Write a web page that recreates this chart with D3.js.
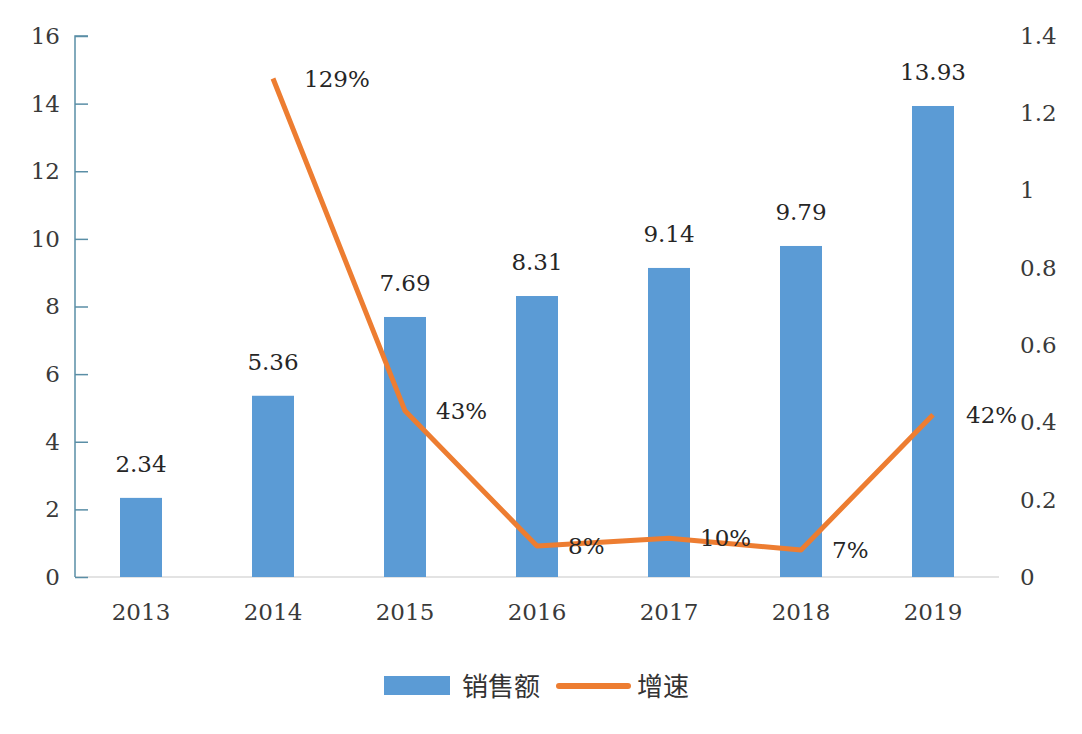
<!DOCTYPE html>
<html><head><meta charset="utf-8">
<script src="https://cdn.jsdelivr.net/npm/d3@7"></script>
<style>body{margin:0;background:#fff}</style>
</head><body>
<svg id="c" width="1082" height="734"></svg>
<script>
const categories = ["2013","2014","2015","2016","2017","2018","2019"];
const sales = [2.34, 5.36, 7.69, 8.31, 9.14, 9.79, 13.93];
const growth = [null, 1.29, 0.43, 0.08, 0.10, 0.07, 0.42];
const growthLabels = ["", "129%", "43%", "8%", "10%", "7%", "42%"];
const leftTicks = [0,2,4,6,8,10,12,14,16];
const rightTicks = [0,0.2,0.4,0.6,0.8,1,1.2,1.4];
const legendNames = ["销售额","增速"];

(function(){
const svg = d3.select("#c");
const pL = 75, pR = 999, pT = 36, pB = 577;
const font = "'DejaVu Serif',serif";
const fs = 23;
const x = d3.scaleBand().domain(categories).range([pL, pR]).paddingInner(0).paddingOuter(0);
const y = d3.scaleLinear().domain([0,16]).range([pB, pT]);
const y2 = d3.scaleLinear().domain([0,1.4]).range([pB, pT]);
const bw = 42;

svg.append("line").attr("x1", pL).attr("x2", pR).attr("y1", pB).attr("y2", pB)
  .attr("stroke", "#c8c8c8").attr("stroke-width", 1.2);

const la = svg.append("g").attr("transform", `translate(${pL},0)`)
  .call(d3.axisLeft(y).tickValues(leftTicks).tickSize(-13).tickPadding(0).tickFormat(d3.format("d")));
la.select(".domain").attr("stroke", "#5a8ea6").attr("stroke-width", 1.5).attr("d", `M13,${pT}H0V${pB}`);
la.selectAll(".tick line").attr("stroke", "#5a8ea6").attr("stroke-width", 1.5);
la.selectAll(".tick text").attr("x", -15).attr("font-size", fs).attr("font-family", font).attr("fill", "#3a3a3a");

const ra = svg.append("g").attr("transform", `translate(${pR},0)`)
  .call(d3.axisRight(y2).tickValues(rightTicks).tickSize(0).tickPadding(21).tickFormat(d => String(d)));
ra.select(".domain").remove();
ra.selectAll(".tick text").attr("font-size", fs).attr("font-family", font).attr("fill", "#3a3a3a");

const xa = svg.append("g").attr("transform", `translate(0,${pB})`)
  .call(d3.axisBottom(x).tickSize(0).tickPadding(27));
xa.select(".domain").remove();
xa.selectAll(".tick text").attr("font-size", fs).attr("font-family", font).attr("fill", "#3a3a3a");

svg.append("g").selectAll("rect").data(sales).join("rect")
  .attr("x", (d,i) => x(categories[i]) + x.bandwidth()/2 - bw/2)
  .attr("y", d => y(d)).attr("width", bw).attr("height", d => pB - y(d))
  .attr("fill", "#5b9bd5");

svg.append("g").selectAll("text").data(sales).join("text")
  .attr("x", (d,i) => x(categories[i]) + x.bandwidth()/2)
  .attr("y", d => y(d) - 26).attr("text-anchor", "middle")
  .attr("font-size", fs).attr("font-family", font).attr("fill", "#262626")
  .text(d => d.toFixed(2));

const pts = growth.map((g,i) => ({g, i})).filter(d => d.g !== null);
const line = d3.line().x(d => x(categories[d.i]) + x.bandwidth()/2).y(d => y2(d.g));
svg.append("path").datum(pts).attr("d", line).attr("fill", "none")
  .attr("stroke", "#ed7d31").attr("stroke-width", 5).attr("stroke-linejoin", "round");

svg.append("g").selectAll("text").data(pts).join("text")
  .attr("x", d => x(categories[d.i]) + x.bandwidth()/2 + (d.i === categories.length - 1 ? 33 : 31))
  .attr("y", d => y2(d.g) + 8)
  .attr("font-size", fs).attr("font-family", font).attr("fill", "#262626")
  .text(d => growthLabels[d.i]);

const lg = svg.append("g");
const cjk = "'Noto Sans CJK SC',sans-serif";
lg.append("rect").attr("x", 384).attr("y", 676).attr("width", 66).attr("height", 19).attr("fill", "#5b9bd5");
lg.append("text").attr("x", 462).attr("y", 696).attr("font-size", 26)
  .attr("font-family", cjk).attr("fill", "#333").text(legendNames[0]);
lg.append("line").attr("x1", 559).attr("x2", 628).attr("y1", 686).attr("y2", 686)
  .attr("stroke", "#ed7d31").attr("stroke-width", 6).attr("stroke-linecap", "round");
lg.append("text").attr("x", 637).attr("y", 696).attr("font-size", 26)
  .attr("font-family", cjk).attr("fill", "#333").text(legendNames[1]);
})();
</script>
</body></html>
